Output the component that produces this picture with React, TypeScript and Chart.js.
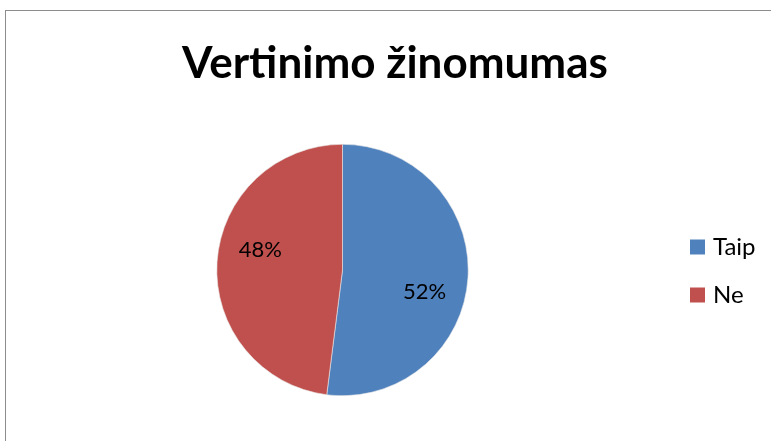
import React, { useEffect, useRef } from "react";
import { Chart, registerables } from "chart.js";

Chart.register(...registerables);

const TITLE = "Vertinimo žinomumas";
const categories = ["Taip", "Ne"];
const values = [52, 48];
const colors = ["#4F81BD", "#C0504D"];
const FONT = "Lato, 'Liberation Sans', sans-serif";

const overlayPlugin = {
  id: "overlay",
  afterDatasetsDraw(chart: any) {
    const ctx = chart.ctx;
    const meta = chart.getDatasetMeta(0);
    const data = chart.data.datasets[0].data as number[];
    const total = data.reduce((a: number, b: number) => a + b, 0);
    ctx.save();
    // percent labels
    ctx.fillStyle = "#000";
    ctx.font = `22px ${FONT}`;
    ctx.textAlign = "center";
    ctx.textBaseline = "middle";
    meta.data.forEach((arc: any, i: number) => {
      const p = arc.getProps(["x", "y", "startAngle", "endAngle", "outerRadius"], true);
      const mid = (p.startAngle + p.endAngle) / 2 + (11 * Math.PI) / 180;
      const r = p.outerRadius * 0.675;
      const pct = Math.round((data[i] / total) * 100) + "%";
      ctx.fillText(pct, p.x + Math.cos(mid) * r, p.y + Math.sin(mid) * r + 1);
    });
    // title
    ctx.font = `bold 44px ${FONT}`;
    ctx.textBaseline = "alphabetic";
    ctx.fillText(TITLE, 395, 78);
    // legend
    ctx.textAlign = "left";
    ctx.textBaseline = "middle";
    ctx.font = `24px ${FONT}`;
    chart.data.labels.forEach((lab: string, i: number) => {
      const cy = 246.5 + i * 48;
      ctx.fillStyle = colors[i];
      ctx.fillRect(690, cy - 7, 15, 15);
      ctx.fillStyle = "#000";
      ctx.fillText(lab, 713, cy + 1);
    });
    ctx.restore();
  },
};

export default function App() {
  const ref = useRef<HTMLCanvasElement>(null);
  useEffect(() => {
    document.body.style.margin = "0";
    const chart = new Chart(ref.current!, {
      type: "pie",
      data: {
        labels: categories,
        datasets: [
          {
            data: values,
            backgroundColor: colors,
            borderWidth: 0.6,
            borderColor: "#e8e8e8",
          },
        ],
      },
      options: {
        animation: false,
        responsive: false,
        maintainAspectRatio: false,
        layout: { padding: { left: 216.5, right: 302.5, top: 144, bottom: 45 } },
        plugins: {
          legend: { display: false },
          title: { display: false },
          tooltip: { enabled: false },
        },
      },
      plugins: [overlayPlugin],
    });
    return () => chart.destroy();
  }, []);
  return (
    <div style={{ position: "relative", width: 771, height: 441, background: "#fff", overflow: "hidden" }}>
      <div
        style={{
          position: "absolute",
          left: 5,
          top: 10,
          width: 800,
          height: 460,
          border: "1.5px solid #8c8c8c",
          boxSizing: "border-box",
        }}
      />
      <canvas ref={ref} width={771} height={441} style={{ position: "absolute", left: 0, top: 0 }} />
    </div>
  );
}
